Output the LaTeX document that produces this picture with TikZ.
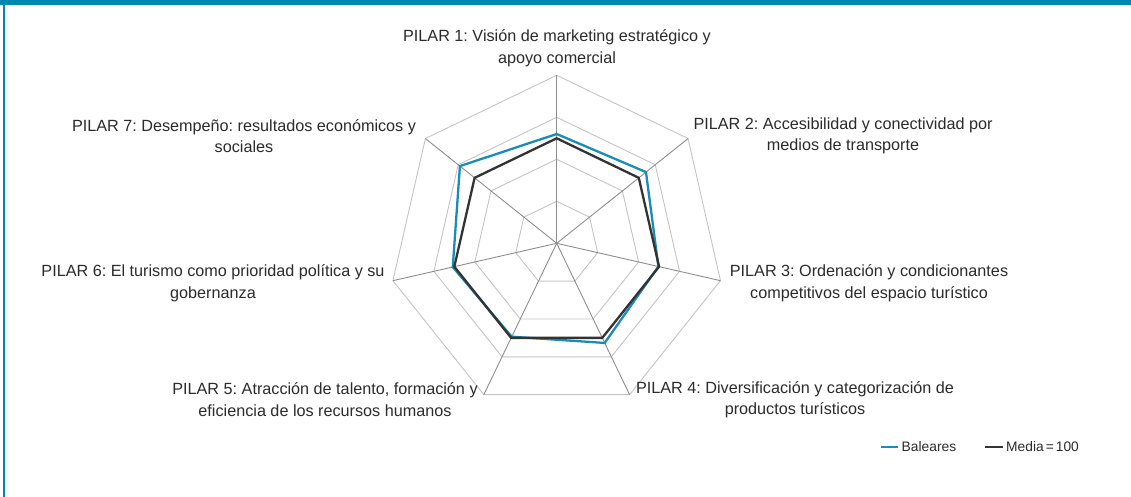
\documentclass[tikz,border=0pt]{standalone}
\usepackage{fontspec}
\setmainfont{Liberation Sans}
\frenchspacing
\definecolor{barcol}{HTML}{0088B0}
\definecolor{balcol}{HTML}{1A8DB2}
\definecolor{medcol}{HTML}{333333}
\definecolor{ringcol}{HTML}{C4C4C4}
\definecolor{spokecol}{HTML}{8E8E8E}
\definecolor{txtcol}{HTML}{2B2B2B}
\tikzset{
  ring/.style={draw=ringcol, line width=0.9pt, line join=miter},
  spoke/.style={draw=spokecol, line width=0.9pt},
  balline/.style={draw=balcol, line width=2.3pt, line join=miter},
  medline/.style={draw=medcol, line width=2.3pt, line join=miter},
  pillabel/.style={align=center, inner sep=0pt, text=txtcol, font=\fontsize{16.2}{21.5}\selectfont},
  legtext/.style={anchor=west, inner sep=0pt, text=txtcol, font=\fontsize{13.8}{16}\selectfont},
}
\begin{document}
\begin{tikzpicture}[x=1pt,y=1pt]
\useasboundingbox (0,0) rectangle (1131,497);
\fill[barcol] (0,492) rectangle (1131,497);
\draw[barcol, line width=1.6pt] (4.2,0) -- (4.2,492);
\begin{scope}[shift={(556.7,253.7)}]
  \foreach \r in {42,84,126,168} {
    \draw[ring] (90:\r) -- (38.571:\r) -- (-12.857:\r) -- (-64.286:\r) -- (-115.714:\r) -- (-167.143:\r) -- (141.429:\r) -- cycle;
  }
  \coordinate (O) at (0,0);
  \foreach \a [count=\i] in {90,38.571,-12.857,-64.286,-115.714,-167.143,141.429} {
    \coordinate (v\i) at (\a:168);
    \draw[spoke] (O) -- (v\i);
  }
  \draw[balline] (90:109.3) -- (38.571:114.2) -- (-12.857:104.3) -- (-64.286:110.6) -- (-115.714:103.7) -- (-167.143:106.6) -- (141.429:123.8) -- cycle;
  \draw[medline] (90:105) -- (38.571:105) -- (-12.857:105) -- (-64.286:105) -- (-115.714:105) -- (-167.143:105) -- (141.429:105) -- cycle;
\end{scope}
\node[pillabel] (p1) at (557,449) {PILAR 1: Visión de marketing estratégico y\\apoyo comercial};
\node[pillabel] (p2) at (843,361) {PILAR 2: Accesibilidad y conectividad por\\medios de transporte};
\node[pillabel] (p3) at (869,214) {PILAR 3: Ordenación y condicionantes\\competitivos del espacio turístico};
\node[pillabel] (p4) at (795,97.5) {PILAR 4: Diversificación y categorización de\\productos turísticos};
\node[pillabel] (p5) at (325,97.5) {PILAR 5: Atracción de talento, formación y\\eficiencia de los recursos humanos};
\node[pillabel] (p6) at (213,214) {PILAR 6: El turismo como prioridad política y su\\gobernanza};
\node[pillabel] (p7) at (244,361) {PILAR 7: Desempeño: resultados económicos y\\sociales};
\coordinate (lb1) at (881,50);
\coordinate (lb2) at (898,50);
\draw[balcol, line width=2.3pt] (lb1) -- (lb2);
\node[legtext] (lbt) at (901.5,50) {Baleares};
\coordinate (lm1) at (985,50);
\coordinate (lm2) at (1003,50);
\draw[medcol, line width=2.3pt] (lm1) -- (lm2);
\node[legtext] (lmt) at (1006,50) {Media\kern2pt=\kern2pt100};
\end{tikzpicture}
\end{document}
